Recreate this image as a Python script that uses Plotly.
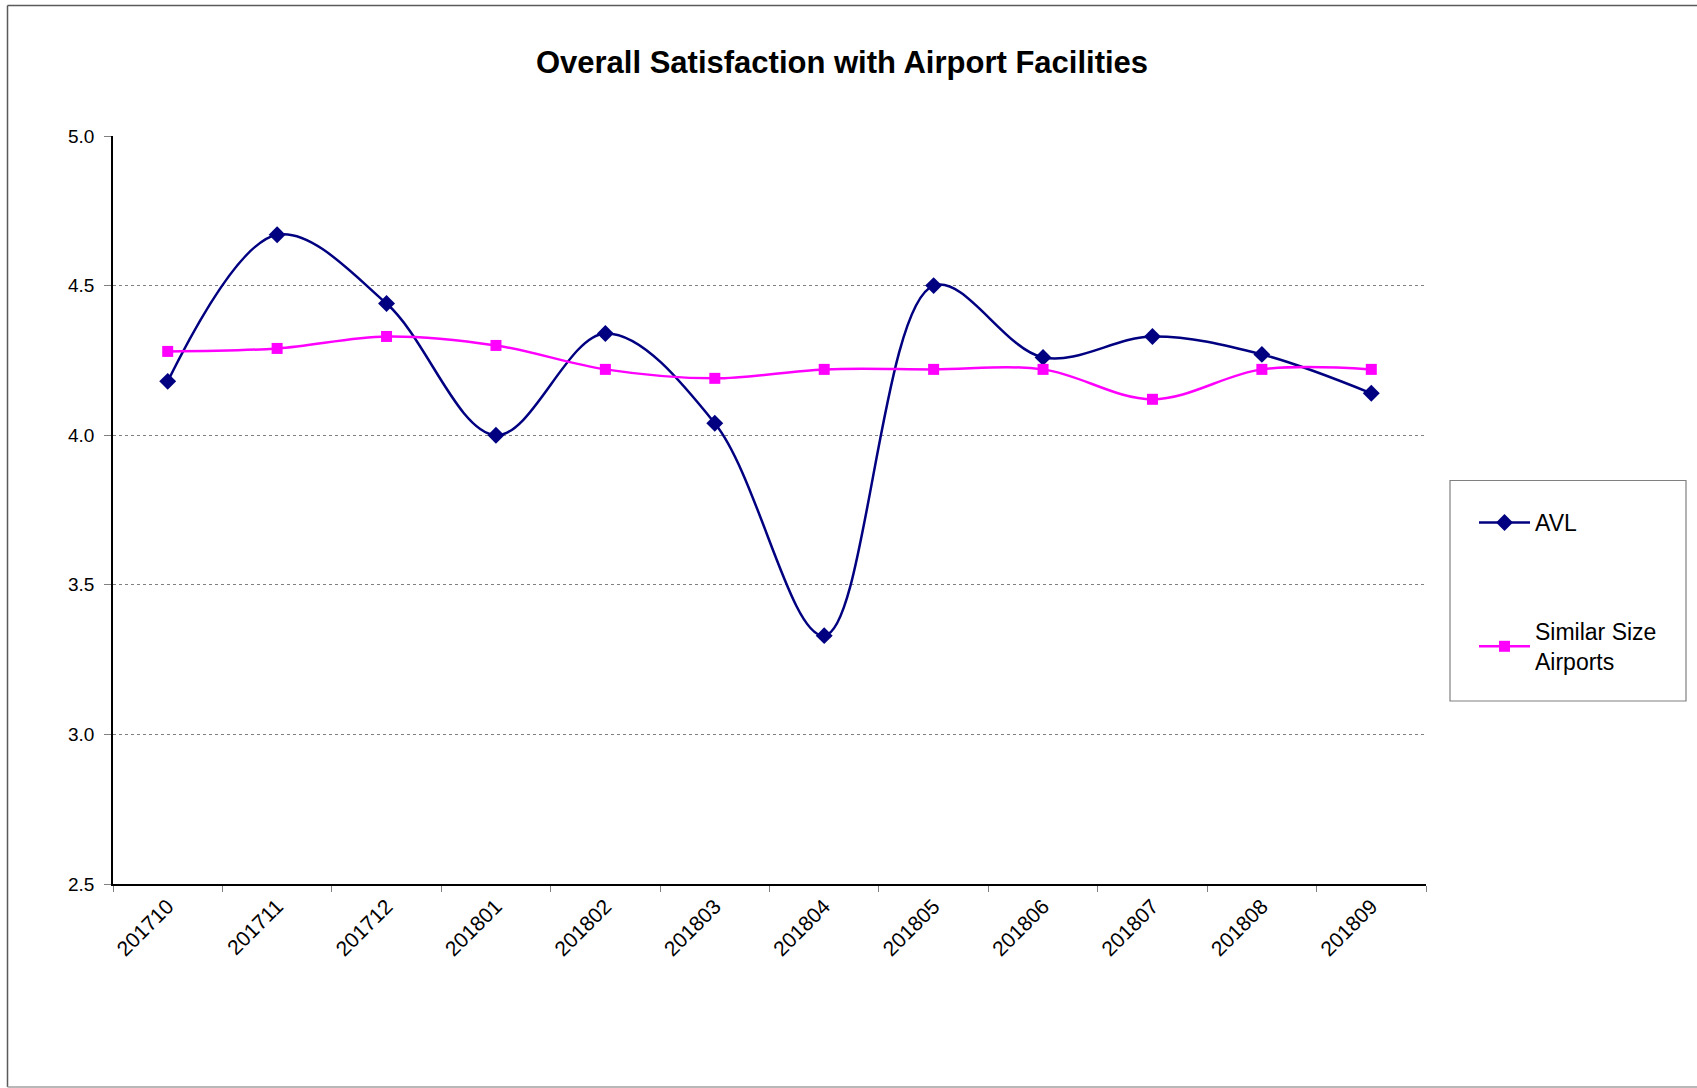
import plotly.graph_objects as go

months = ["201710", "201711", "201712", "201801", "201802", "201803",
          "201804", "201805", "201806", "201807", "201808", "201809"]
avl = [4.18, 4.67, 4.44, 4.00, 4.34, 4.04, 3.33, 4.50, 4.26, 4.33, 4.27, 4.14]
similar = [4.28, 4.29, 4.33, 4.30, 4.22, 4.19, 4.22, 4.22, 4.22, 4.12, 4.22, 4.22]
y_ticks = [2.5, 3.0, 3.5, 4.0, 4.5, 5.0]

# body margin is removed by post_script, so figure px == page px
W, H = 1697, 1088
# plot area in page pixels: x 113..1426, y 136..884
ML, MT = 113, 136
PW = 1426 - 113
PH = 884 - 136
MR = W - ML - PW
MB = H - MT - PH


def px_x(p):
    return (p - ML) / PW


def px_y(p):
    return (MT + PH - p) / PH


FONT = "Liberation Sans, Arial, sans-serif"

fig = go.Figure()
fig.add_trace(go.Scatter(
    x=months, y=avl, name="AVL", mode="lines+markers",
    line=dict(color="#000080", width=2.5, shape="spline", smoothing=1.0),
    marker=dict(symbol="diamond", size=13, color="#000080"),
    legendgroup="a",
))
fig.add_trace(go.Scatter(
    x=months, y=similar, name="Similar Size<br>Airports", mode="lines+markers",
    line=dict(color="#FF00FF", width=2.5, shape="spline", smoothing=1.0),
    marker=dict(symbol="square", size=11, color="#FF00FF"),
    legendgroup="b",
))

border = dict(color="#5a5a5a", width=1.5)
fig.update_layout(
    width=W, height=H,
    margin=dict(l=ML, r=MR, t=MT, b=MB),
    paper_bgcolor="white", plot_bgcolor="white",
    font=dict(family=FONT, size=21, color="black"),
    title=dict(text="<b>Overall Satisfaction with Airport Facilities</b>",
               x=842 / W, xref="container", xanchor="center",
               y=1 - 62 / H, yref="container", yanchor="middle",
               font=dict(family=FONT, size=31, color="black")),
    showlegend=True,
    legend=dict(
        x=px_x(1474), y=px_y(501), xanchor="left", yanchor="top",
        bgcolor="rgba(0,0,0,0)", borderwidth=0,
        font=dict(family=FONT, size=23, color="black"),
        traceorder="grouped", tracegroupgap=76,
        itemwidth=51,
    ),
    xaxis=dict(
        type="category", range=[-0.5, len(months) - 0.5],
        tickson="boundaries", ticks="outside", ticklen=6, tickcolor="#808080",
        showline=True, linecolor="black", linewidth=1.5,
        showgrid=False, tickangle=-45,
        tickfont=dict(family=FONT, size=21, color="black"),
    ),
    yaxis=dict(
        range=[2.5, 5.0], tickvals=y_ticks, tickformat=".1f",
        ticks="outside", ticklen=7, tickcolor="#808080",
        ticklabelstandoff=6,
        showline=True, linecolor="black", linewidth=1.5,
        showgrid=True, gridcolor="#808080", griddash="dot", gridwidth=1,
        zeroline=False,
        tickfont=dict(family=FONT, size=19, color="black"),
    ),
    shapes=[
        dict(type="rect", xref="paper", yref="paper",
             x0=px_x(1450), x1=px_x(1686), y0=px_y(701), y1=px_y(480.5),
             line=dict(color="#808080", width=1.2), fillcolor="rgba(0,0,0,0)"),
        dict(type="line", xref="paper", yref="paper",
             x0=px_x(7.5), x1=px_x(1697), y0=px_y(5.5), y1=px_y(5.5),
             line=border),
        dict(type="line", xref="paper", yref="paper",
             x0=px_x(7.5), x1=px_x(7.5), y0=px_y(5.5), y1=px_y(1087),
             line=border),
        dict(type="line", xref="paper", yref="paper",
             x0=px_x(7.5), x1=px_x(1697), y0=px_y(1087), y1=px_y(1087),
             line=dict(color="#a0a0a0", width=1.5)),
    ],
)

fig.write_html(
    "out.html",
    config={"displayModeBar": False},
    post_script="document.body.style.margin='0';"
                "document.documentElement.style.overflow='hidden';"
                "document.body.style.overflow='hidden';",
)
